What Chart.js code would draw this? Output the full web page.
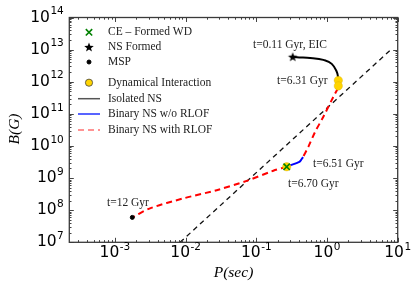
<!DOCTYPE html>
<html><head><meta charset="utf-8">
<script src="https://cdn.jsdelivr.net/npm/chart.js@4/dist/chart.umd.min.js"></script>
<style>html,body{margin:0;padding:0;background:#fff;}#wrap{width:416px;height:287px;position:relative;}</style>
</head><body><div id="wrap"><canvas id="c" width="416" height="287"></canvas></div>
<script>
// ---- data ----
const xTickExps = [-3, -2, -1, 0, 1];
const yTickExps = [7, 8, 9, 10, 11, 12, 13, 14];
const xRange = [2.26e-4, 10];
const yRange = [1e7, 1e14];
const deathP = [0.00834, 8.4];
const deathB = [1e7, 1.1e13];
const isoP = [0.327, 0.372, 0.575, 0.887, 1.166, 1.34, 1.43, 1.445];
const isoB = [6.0e12, 5.8e12, 5.5e12, 4.8e12, 3.6e12, 2.3e12, 1.45e12, 1.15e12];
const rlof1P = [1.43, 1.23, 0.887, 0.676, 0.544, 0.458];
const rlof1B = [6.3e11, 3.4e11, 8.1e10, 2.7e10, 9.4e9, 4.5e9];
const noRlofP = [0.458, 0.428, 0.406, 0.284, 0.269];
const noRlofB = [4.5e9, 3.6e9, 3.2e9, 2.37e9, 2.25e9];
const rlof2P = [0.269, 0.174, 0.0731, 0.0275, 0.00928, 0.00313, 0.00182];
const rlof2B = [2.25e9, 1.69e9, 8.2e8, 4.2e8, 2.33e8, 1.14e8, 6.2e7];
const dynP = [1.445, 1.445, 0.269];
const dynB = [1.1e12, 7.4e11, 2.25e9];
const ceP = [0.269];
const ceB = [2.25e9];
const nsP = [0.327];
const nsB = [6.0e12];
const mspP = [0.00176];
const mspB = [5.97e7];
const legendLabels = ['CE \u2013 Formed WD', 'NS Formed', 'MSP', 'Dynamical Interaction', 'Isolated NS', 'Binary NS w/o RLOF', 'Binary NS with RLOF'];
const annotTexts = ['t=0.11 Gyr, EIC', 't=6.31 Gyr', 't=6.51 Gyr', 't=6.70 Gyr', 't=12 Gyr'];
const xTitle = 'P(sec)';
const yTitle = 'B(G)';

const pts = (xs, ys) => xs.map((x, i) => ({x: x, y: ys[i]}));

function makeStar(r, color) {
  const s = Math.ceil(r * 2 + 2);
  const c = document.createElement('canvas');
  c.width = s; c.height = s;
  const g = c.getContext('2d');
  g.fillStyle = color;
  g.beginPath();
  for (let i = 0; i < 10; i++) {
    const a = -Math.PI / 2 + i * Math.PI / 5;
    const rr = (i % 2) ? r * 0.42 : r;
    g.lineTo(s / 2 + rr * Math.cos(a), s / 2 + rr * Math.sin(a) + 0.5);
  }
  g.closePath(); g.fill();
  return c;
}
const starImg = makeStar(5, '#000');

const YELLOW = '#ffd400';
const RED = '#ff0000';

const datasets = [
  {label: 'ce', data: pts(ceP, ceB), pointStyle: 'crossRot', pointRadius: 4.5, borderColor: '#008000', backgroundColor: '#008000', pointBorderWidth: 1.6, showLine: false},
  {label: 'ns', data: pts(nsP, nsB), pointStyle: starImg, pointRadius: 5, showLine: false},
  {label: 'msp', data: pts(mspP, mspB), pointStyle: 'circle', pointRadius: 2, backgroundColor: '#000', borderColor: '#000', showLine: false},
  {label: 'dyn', data: pts(dynP, dynB), pointStyle: 'circle', pointRadius: 4.2, backgroundColor: YELLOW, borderColor: 'rgba(200,160,0,0.6)', pointBorderWidth: 0.5, showLine: false},
  {label: 'blue', data: pts(noRlofP, noRlofB), showLine: true, borderColor: '#0000ff', borderWidth: 2, pointRadius: 0, tension: 0.3},
  {label: 'red1', data: pts(rlof1P, rlof1B), showLine: true, borderColor: RED, borderWidth: 2, borderDash: [6, 4], pointRadius: 0, tension: 0.3},
  {label: 'red2', data: pts(rlof2P, rlof2B), showLine: true, borderColor: RED, borderWidth: 2, borderDash: [6, 4], pointRadius: 0, tension: 0.3},
  {label: 'iso', data: pts(isoP, isoB), showLine: true, borderColor: '#000', borderWidth: 2, pointRadius: 0, cubicInterpolationMode: 'monotone'},
  {label: 'death', data: pts(deathP, deathB), showLine: true, borderColor: '#111', borderWidth: 1.3, borderDash: [5, 4], pointRadius: 0}
];

function drawPow(ctx, exp, x, y, align) {
  const base = '10', sup = String(exp);
  const fb = '15.5px "DejaVu Sans"', fs = '10.5px "DejaVu Sans"';
  ctx.font = fb; const wb = ctx.measureText(base).width;
  ctx.font = fs; const ws = ctx.measureText(sup).width;
  const total = wb + ws + 0.5;
  const x0 = align === 'right' ? x - total : x - total / 2;
  ctx.textAlign = 'left'; ctx.textBaseline = 'middle'; ctx.fillStyle = '#000';
  ctx.font = fb; ctx.fillText(base, x0, y);
  ctx.font = fs; ctx.fillText(sup, x0 + wb + 0.5, y - 6);
}

function legendPoint(ctx, opts, x, y) {
  ctx.save();
  ctx.setLineDash([]);
  ctx.fillStyle = opts.backgroundColor;
  ctx.strokeStyle = opts.borderColor;
  ctx.lineWidth = opts.borderWidth;
  Chart.helpers.drawPoint(ctx, opts, x, y);
  ctx.restore();
}

const framePlugin = {
  id: 'frame',
  afterDraw(chart) {
    const ctx = chart.ctx, a = chart.chartArea;
    const xs = chart.scales.x, ys = chart.scales.y;
    ctx.save();
    ctx.strokeStyle = '#444'; ctx.lineWidth = 1;
    const xMin = Math.log10(xRange[0]), xMax = Math.log10(xRange[1]);
    ctx.beginPath();
    for (let e = Math.floor(xMin); e <= Math.ceil(xMax); e++) {
      for (let m = 1; m <= 9; m++) {
        const v = m * Math.pow(10, e);
        if (v < xRange[0] * 0.999 || v > xRange[1] * 1.001) continue;
        const px = Math.round(xs.getPixelForValue(v)) + 0.5;
        const L = m === 1 ? 4.5 : 2.2;
        ctx.moveTo(px, a.bottom); ctx.lineTo(px, a.bottom - L);
        ctx.moveTo(px, a.top); ctx.lineTo(px, a.top + L);
      }
    }
    for (let e = 7; e <= 14; e++) {
      for (let m = 1; m <= 9; m++) {
        const v = m * Math.pow(10, e);
        if (v < yRange[0] * 0.999 || v > yRange[1] * 1.001) continue;
        const py = Math.round(ys.getPixelForValue(v)) + 0.5;
        const L = m === 1 ? 4.5 : 2.2;
        ctx.moveTo(a.left, py); ctx.lineTo(a.left + L, py);
        ctx.moveTo(a.right, py); ctx.lineTo(a.right - L, py);
      }
    }
    ctx.stroke();
    ctx.lineWidth = 1.3; ctx.strokeStyle = '#3a3a3a';
    ctx.strokeRect(a.left, a.top, a.right - a.left, a.bottom - a.top);
    yTickExps.forEach(e => drawPow(ctx, e, a.left - 5.5, ys.getPixelForValue(Math.pow(10, e)), 'right'));
    xTickExps.forEach(e => drawPow(ctx, e, xs.getPixelForValue(Math.pow(10, e)), a.bottom + 11, 'center'));
    ctx.fillStyle = '#000';
    ctx.font = 'italic 15.5px "Liberation Serif"';
    ctx.textAlign = 'center'; ctx.textBaseline = 'middle';
    ctx.fillText(xTitle, (a.left + a.right) / 2, 273);
    ctx.save(); ctx.translate(15, 129); ctx.rotate(-Math.PI / 2); ctx.fillText(yTitle, 0, 0); ctx.restore();
    ctx.font = '11.5px "Liberation Serif"'; ctx.fillStyle = '#222';
    ctx.textAlign = 'left'; ctx.textBaseline = 'middle';
    const annPos = [[253, 44.5], [277, 81], [313, 163.5], [288, 183.5], [107, 203]];
    annotTexts.forEach((t, i) => ctx.fillText(t, annPos[i][0], annPos[i][1]));
    const rows = [32.3, 47, 62, 82.7, 98.7, 114, 130];
    const mx = 89, tx = 108;
    legendLabels.forEach((t, i) => ctx.fillText(t, tx, rows[i]));
    legendPoint(ctx, {pointStyle: 'crossRot', radius: 4.5, borderWidth: 1.6, borderColor: '#008000', backgroundColor: '#008000'}, mx, rows[0]);
    ctx.drawImage(starImg, mx - starImg.width / 2, rows[1] - starImg.height / 2);
    legendPoint(ctx, {pointStyle: 'circle', radius: 2, borderWidth: 1, borderColor: '#000', backgroundColor: '#000'}, mx, rows[2]);
    legendPoint(ctx, {pointStyle: 'circle', radius: 3.6, borderWidth: 0.8, borderColor: '#444', backgroundColor: YELLOW}, mx, rows[3]);
    ctx.setLineDash([]);
    ctx.lineWidth = 1.5; ctx.strokeStyle = '#555';
    ctx.beginPath(); ctx.moveTo(78, rows[4]); ctx.lineTo(100, rows[4]); ctx.stroke();
    ctx.strokeStyle = '#2030ff';
    ctx.beginPath(); ctx.moveTo(78, rows[5]); ctx.lineTo(100, rows[5]); ctx.stroke();
    ctx.strokeStyle = '#ff7070'; ctx.setLineDash([6, 4]);
    ctx.beginPath(); ctx.moveTo(78, rows[6]); ctx.lineTo(100, rows[6]); ctx.stroke();
    ctx.restore();
  }
};

new Chart(document.getElementById('c'), {
  type: 'scatter',
  data: {datasets: datasets},
  options: {
    responsive: false,
    animation: false,
    devicePixelRatio: 1,
    layout: {padding: {left: 69.3, right: 18.3, top: 17.5, bottom: 44.7}},
    plugins: {legend: {display: false}, tooltip: {enabled: false}},
    scales: {
      x: {type: 'logarithmic', min: xRange[0], max: xRange[1], display: false},
      y: {type: 'logarithmic', min: yRange[0], max: yRange[1], display: false}
    }
  },
  plugins: [framePlugin]
});
</script>
</body></html>
